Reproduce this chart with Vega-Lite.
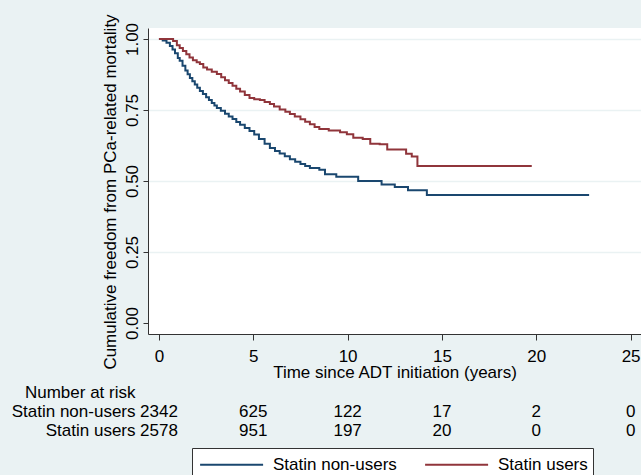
{
  "$schema": "https://vega.github.io/schema/vega-lite/v6.json",
  "background": "#eaf2f3",
  "padding": {"left": 11, "top": 13, "right": 0, "bottom": 0},
  "spacing": 3,
  "config": {
    "font": "Liberation Sans",
    "view": {"stroke": null, "fill": "white"},
    "axis": {"labelColor": "black", "titleColor": "black", "titleFontWeight": "normal", "labelFontSize": 17, "titleFontSize": 17, "domainColor": "#333", "tickColor": "#333"}
  },
  "vconcat": [
    {
      "width": 493,
      "height": 306,
      "data": {"values": [
        {"group": "Statin non-users", "t": 0.00, "S": 1.000},
        {"group": "Statin non-users", "t": 0.20, "S": 0.995},
        {"group": "Statin non-users", "t": 0.40, "S": 0.987},
        {"group": "Statin non-users", "t": 0.58, "S": 0.975},
        {"group": "Statin non-users", "t": 0.72, "S": 0.963},
        {"group": "Statin non-users", "t": 0.85, "S": 0.950},
        {"group": "Statin non-users", "t": 1.00, "S": 0.933},
        {"group": "Statin non-users", "t": 1.10, "S": 0.923},
        {"group": "Statin non-users", "t": 1.25, "S": 0.906},
        {"group": "Statin non-users", "t": 1.40, "S": 0.889},
        {"group": "Statin non-users", "t": 1.52, "S": 0.876},
        {"group": "Statin non-users", "t": 1.64, "S": 0.863},
        {"group": "Statin non-users", "t": 1.77, "S": 0.851},
        {"group": "Statin non-users", "t": 1.90, "S": 0.840},
        {"group": "Statin non-users", "t": 2.03, "S": 0.828},
        {"group": "Statin non-users", "t": 2.17, "S": 0.817},
        {"group": "Statin non-users", "t": 2.33, "S": 0.806},
        {"group": "Statin non-users", "t": 2.50, "S": 0.795},
        {"group": "Statin non-users", "t": 2.65, "S": 0.785},
        {"group": "Statin non-users", "t": 2.80, "S": 0.775},
        {"group": "Statin non-users", "t": 2.94, "S": 0.766},
        {"group": "Statin non-users", "t": 3.07, "S": 0.757},
        {"group": "Statin non-users", "t": 3.28, "S": 0.747},
        {"group": "Statin non-users", "t": 3.50, "S": 0.737},
        {"group": "Statin non-users", "t": 3.70, "S": 0.727},
        {"group": "Statin non-users", "t": 3.90, "S": 0.718},
        {"group": "Statin non-users", "t": 4.10, "S": 0.708},
        {"group": "Statin non-users", "t": 4.30, "S": 0.698},
        {"group": "Statin non-users", "t": 4.55, "S": 0.687},
        {"group": "Statin non-users", "t": 4.80, "S": 0.676},
        {"group": "Statin non-users", "t": 5.05, "S": 0.664},
        {"group": "Statin non-users", "t": 5.30, "S": 0.648},
        {"group": "Statin non-users", "t": 5.60, "S": 0.631},
        {"group": "Statin non-users", "t": 5.88, "S": 0.616},
        {"group": "Statin non-users", "t": 6.15, "S": 0.606},
        {"group": "Statin non-users", "t": 6.40, "S": 0.597},
        {"group": "Statin non-users", "t": 6.67, "S": 0.587},
        {"group": "Statin non-users", "t": 6.94, "S": 0.577},
        {"group": "Statin non-users", "t": 7.22, "S": 0.568},
        {"group": "Statin non-users", "t": 7.50, "S": 0.560},
        {"group": "Statin non-users", "t": 7.75, "S": 0.553},
        {"group": "Statin non-users", "t": 8.00, "S": 0.546},
        {"group": "Statin non-users", "t": 8.50, "S": 0.540},
        {"group": "Statin non-users", "t": 8.80, "S": 0.524},
        {"group": "Statin non-users", "t": 9.40, "S": 0.515},
        {"group": "Statin non-users", "t": 10.56, "S": 0.500},
        {"group": "Statin non-users", "t": 11.80, "S": 0.488},
        {"group": "Statin non-users", "t": 12.50, "S": 0.479},
        {"group": "Statin non-users", "t": 13.20, "S": 0.467},
        {"group": "Statin non-users", "t": 14.20, "S": 0.451},
        {"group": "Statin non-users", "t": 22.80, "S": 0.451},
        {"group": "Statin users", "t": 0.00, "S": 1.000},
        {"group": "Statin users", "t": 0.58, "S": 1.000},
        {"group": "Statin users", "t": 0.75, "S": 0.993},
        {"group": "Statin users", "t": 0.95, "S": 0.978},
        {"group": "Statin users", "t": 1.10, "S": 0.968},
        {"group": "Statin users", "t": 1.27, "S": 0.958},
        {"group": "Statin users", "t": 1.45, "S": 0.946},
        {"group": "Statin users", "t": 1.62, "S": 0.935},
        {"group": "Statin users", "t": 1.80, "S": 0.925},
        {"group": "Statin users", "t": 2.00, "S": 0.918},
        {"group": "Statin users", "t": 2.17, "S": 0.912},
        {"group": "Statin users", "t": 2.35, "S": 0.900},
        {"group": "Statin users", "t": 2.55, "S": 0.893},
        {"group": "Statin users", "t": 2.80, "S": 0.885},
        {"group": "Statin users", "t": 3.07, "S": 0.877},
        {"group": "Statin users", "t": 3.30, "S": 0.865},
        {"group": "Statin users", "t": 3.50, "S": 0.855},
        {"group": "Statin users", "t": 3.70, "S": 0.845},
        {"group": "Statin users", "t": 3.90, "S": 0.835},
        {"group": "Statin users", "t": 4.10, "S": 0.825},
        {"group": "Statin users", "t": 4.30, "S": 0.815},
        {"group": "Statin users", "t": 4.55, "S": 0.803},
        {"group": "Statin users", "t": 4.80, "S": 0.792},
        {"group": "Statin users", "t": 5.05, "S": 0.788},
        {"group": "Statin users", "t": 5.35, "S": 0.785},
        {"group": "Statin users", "t": 5.60, "S": 0.778},
        {"group": "Statin users", "t": 5.88, "S": 0.771},
        {"group": "Statin users", "t": 6.10, "S": 0.762},
        {"group": "Statin users", "t": 6.40, "S": 0.752},
        {"group": "Statin users", "t": 6.70, "S": 0.744},
        {"group": "Statin users", "t": 6.94, "S": 0.736},
        {"group": "Statin users", "t": 7.20, "S": 0.727},
        {"group": "Statin users", "t": 7.50, "S": 0.717},
        {"group": "Statin users", "t": 7.75, "S": 0.709},
        {"group": "Statin users", "t": 8.00, "S": 0.700},
        {"group": "Statin users", "t": 8.25, "S": 0.690},
        {"group": "Statin users", "t": 8.50, "S": 0.683},
        {"group": "Statin users", "t": 9.00, "S": 0.678},
        {"group": "Statin users", "t": 9.60, "S": 0.672},
        {"group": "Statin users", "t": 9.96, "S": 0.665},
        {"group": "Statin users", "t": 10.30, "S": 0.652},
        {"group": "Statin users", "t": 10.80, "S": 0.648},
        {"group": "Statin users", "t": 11.20, "S": 0.631},
        {"group": "Statin users", "t": 11.70, "S": 0.629},
        {"group": "Statin users", "t": 12.10, "S": 0.611},
        {"group": "Statin users", "t": 13.10, "S": 0.596},
        {"group": "Statin users", "t": 13.40, "S": 0.586},
        {"group": "Statin users", "t": 13.70, "S": 0.553},
        {"group": "Statin users", "t": 19.76, "S": 0.553}
      ]},
      "mark": {"type": "line", "interpolate": "step-after", "strokeWidth": 2},
      "encoding": {
        "x": {
          "field": "t", "type": "quantitative",
          "scale": {"domain": [-0.58, 25.55], "nice": false, "zero": false},
          "axis": {
            "values": [0, 5, 10, 15, 20, 25],
            "title": "Time since ADT initiation (years)",
            "grid": false,
            "tickSize": 6,
            "labelBaseline": "alphabetic",
            "labelPadding": 21,
            "labelFlush": false,
            "titleBaseline": "alphabetic",
            "titleY": 43
          }
        },
        "y": {
          "field": "S", "type": "quantitative",
          "scale": {"domain": [-0.0387, 1.0387], "nice": false, "zero": false},
          "axis": {
            "values": [0, 0.25, 0.5, 0.75, 1],
            "format": ".2f",
            "title": "Cumulative freedom from PCa-related mortality",
            "grid": true,
            "gridColor": {"condition": {"test": "datum.value === 0", "value": "white"}, "value": "#eaf2f3"},
            "gridWidth": 1.5,
            "tickSize": 5,
            "labelAngle": 270,
            "labelAlign": "center",
            "labelBaseline": "alphabetic",
            "labelPadding": 6,
            "titleAngle": 270,
            "titleAlign": "center",
            "titleBaseline": "alphabetic",
            "titleX": -33,
            "titleY": 163.5
          }
        },
        "color": {
          "field": "group", "type": "nominal",
          "scale": {"domain": ["Statin non-users", "Statin users"], "range": ["#1a476f", "#90353b"]},
          "legend": {
            "title": null,
            "orient": "none",
            "legendX": 44,
            "legendY": 420,
            "direction": "horizontal",
            "fillColor": "white",
            "strokeColor": "#333",
            "padding": 5,
            "symbolType": "M-0.8,0H5.2",
            "symbolSize": 441,
            "symbolStrokeWidth": 2,
            "labelFontSize": 17,
            "labelColor": "black",
            "labelOffset": 53,
            "columnPadding": 24
          }
        }
      }
    },
    {
      "width": 493,
      "height": 57,
      "view": {"fill": null, "stroke": null},
      "data": {"values": [
        {"group": "Statin non-users", "t": 0, "n": 2342},
        {"group": "Statin non-users", "t": 5, "n": 625},
        {"group": "Statin non-users", "t": 10, "n": 122},
        {"group": "Statin non-users", "t": 15, "n": 17},
        {"group": "Statin non-users", "t": 20, "n": 2},
        {"group": "Statin non-users", "t": 25, "n": 0},
        {"group": "Statin users", "t": 0, "n": 2578},
        {"group": "Statin users", "t": 5, "n": 951},
        {"group": "Statin users", "t": 10, "n": 197},
        {"group": "Statin users", "t": 15, "n": 20},
        {"group": "Statin users", "t": 20, "n": 0},
        {"group": "Statin users", "t": 25, "n": 0}
      ]},
      "mark": {"type": "text", "fontSize": 17, "color": "black", "align": "center", "baseline": "middle"},
      "encoding": {
        "x": {"field": "t", "type": "quantitative", "scale": {"domain": [-0.58, 25.55], "nice": false, "zero": false}, "axis": null},
        "y": {
          "field": "group", "type": "nominal",
          "scale": {"domain": ["Number at risk", "Statin non-users", "Statin users"]},
          "axis": {"title": null, "domain": false, "ticks": false, "labelPadding": 13, "labelFontSize": 17, "labelColor": "black"}
        },
        "text": {"field": "n", "type": "quantitative"}
      }
    }
  ]
}
